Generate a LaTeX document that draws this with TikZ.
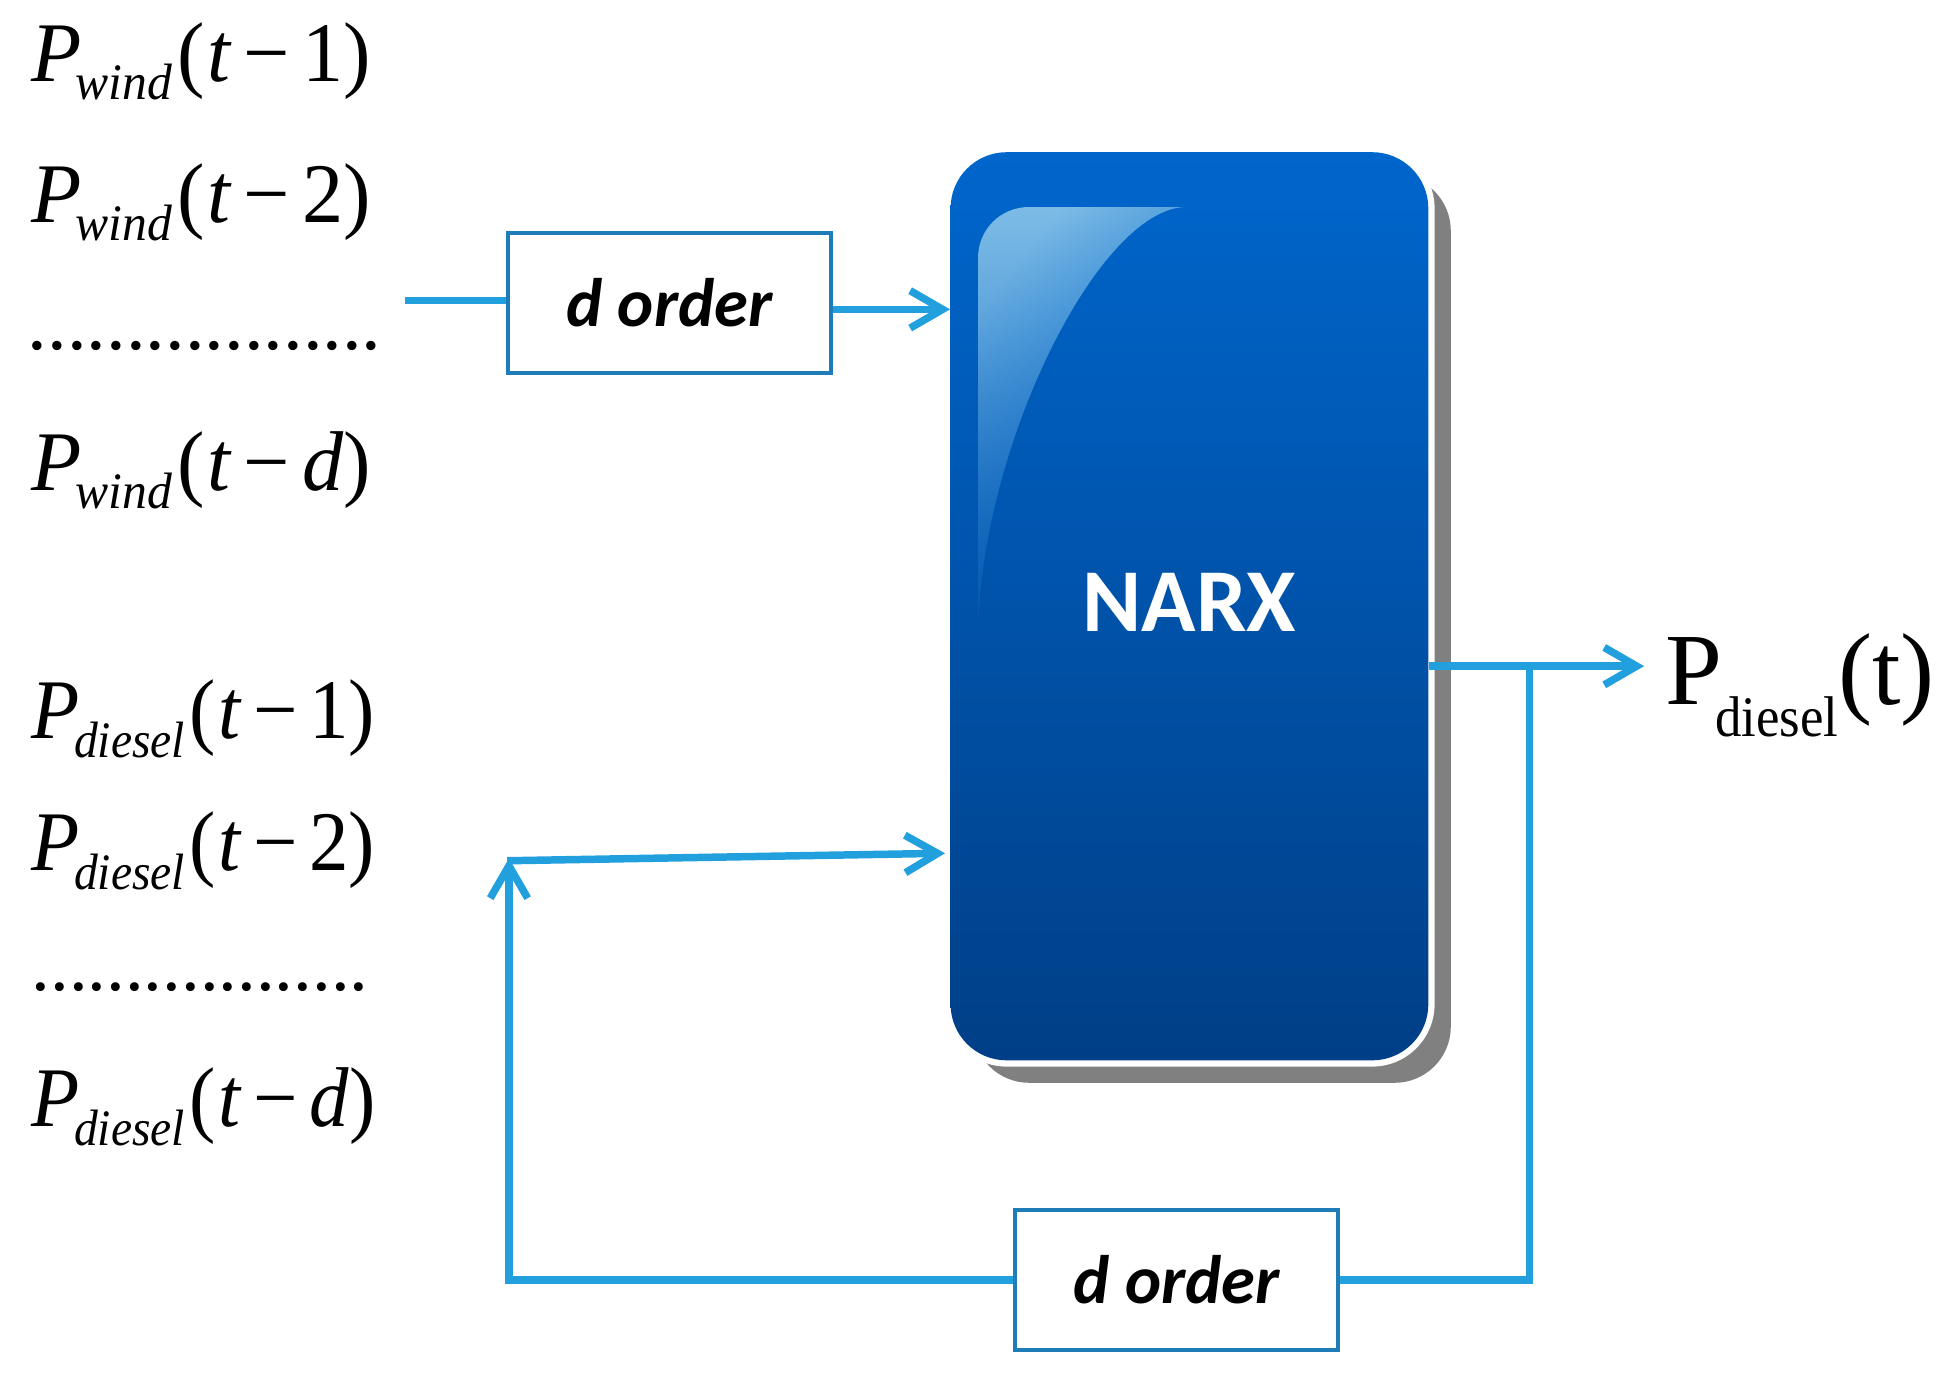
\documentclass[tikz,border=0pt]{standalone}
\usepackage{fontspec}
\setmainfont{Liberation Serif}
\newfontfamily\carl{Carlito}
\usetikzlibrary{arrows.meta,calc,fadings}
\definecolor{linkblue}{RGB}{34,160,222}
\definecolor{boxline}{RGB}{30,125,185}
\definecolor{narxtop}{RGB}{0,102,204}
\definecolor{narxbot}{RGB}{0,63,135}
\definecolor{shadowgray}{RGB}{128,128,128}
\definecolor{glosslight}{RGB}{125,188,230}
\definecolor{glosscyan}{RGB}{0,150,216}
\tikzfading[name=glossfade, top color=transparent!0, bottom color=transparent!90]
\newcommand{\plab}[3]{\scalebox{#3}[1]{\fontsize{34}{40}\selectfont\textit{P}\kern-2.5pt\raisebox{-7.5pt}{\fontsize{20.5}{24}\selectfont\textit{#1}}\kern2pt(\kern1pt\textit{t}\kern5pt−\kern5pt#2)}}
\tikzset{
  link/.style={draw=linkblue, line width=3pt},
  arr/.style={link, -{Straight Barb[length=13pt,width=15pt]}},
  orderbox/.style={draw=boxline, line width=1.6pt, fill=white, minimum width=129.5pt, minimum height=56pt, inner sep=0pt, font=\carl\bfseries\itshape\fontsize{27.5}{30}\selectfont},
  lab/.style={anchor=base west, inner sep=0pt},
  narxbox/.style={rounded corners=22.5pt, minimum width=191.5pt, minimum height=364pt, inner sep=0pt, top color=narxtop, bottom color=narxbot}
}
\begin{document}
\begin{tikzpicture}[x=0.5pt,y=-0.5pt]
\useasboundingbox (0,0) rectangle (1568,1103);
% input labels
\node[lab] (w1) at (25,65) {\plab{wind}{1}{0.97}};
\node[lab] (w2) at (25,178) {\plab{wind}{2}{0.97}};
\node[lab] (wdots) at (22,280) {\fontsize{31.5}{40}\selectfont ..................};
\node[lab] (wd) at (25,393) {\plab{wind}{\textit{d}}{0.97}};
\node[lab] (p1) at (25,592) {\plab{diesel}{1}{0.93}};
\node[lab] (p2) at (25,698) {\plab{diesel}{2}{0.93}};
\node[lab] (pdots) at (25,794) {\fontsize{30}{40}\selectfont ..................};
\node[lab] (pd) at (25,903) {\plab{diesel}{\textit{d}}{0.93}};
% NARX block with shadow
\fill[shadowgray, rounded corners=22.5pt] (780,140) rectangle (1163,868);
\fill[white, rounded corners=25pt] (757,117) rectangle (1150,855);
\node[narxbox] (narx) at (953.5,486) {};
\shade[top color=glosslight, middle color=glosscyan, bottom color=narxtop, shading angle=50, path fading=glossfade]
  (784,510) -- (784,207) .. controls (784,184) and (802,166) .. (825,166) -- (950,166)
  .. controls (880,168) and (785,360) .. (784,510) -- cycle;
\node at ([yshift=1.5pt]narx.center) [text=white, font=\carl\bfseries\fontsize{36}{40}\selectfont] (narxtext) {NARX};
% order boxes
\node[orderbox] (ord1) at (536.5,243) {d order};
\node[orderbox] (ord2) at (943,1026) {d order};
% output label
\node[lab] (pout) at (1335,565) {\fontsize{41}{48}\selectfont P\kern-3pt\raisebox{-12.5pt}{\scalebox{0.92}[1]{\fontsize{23}{26}\selectfont diesel}}\kern0pt(t)};
% connectors
\coordinate (win) at (325,241);
\draw[link] (win) -- (win -| ord1.west);
\draw[arr] ([yshift=-2.5pt]ord1.east) -- ([yshift=-2.5pt]ord1.east -| narx.west);
\coordinate (tip) at (1318,534);
\coordinate (br) at (1226,534);
\draw[arr] ([yshift=-24pt]narx.east) -- (tip);
\draw[link] (br) |- (ord2.east);
\coordinate (fbtip) at (408,688);
\coordinate (fbstart) at (406.5,690);
\draw[arr] (ord2.west) -| (fbtip);
\draw[arr] (fbstart) -- ([yshift=-99pt,xshift=-2pt]narx.west);
\end{tikzpicture}
\end{document}
